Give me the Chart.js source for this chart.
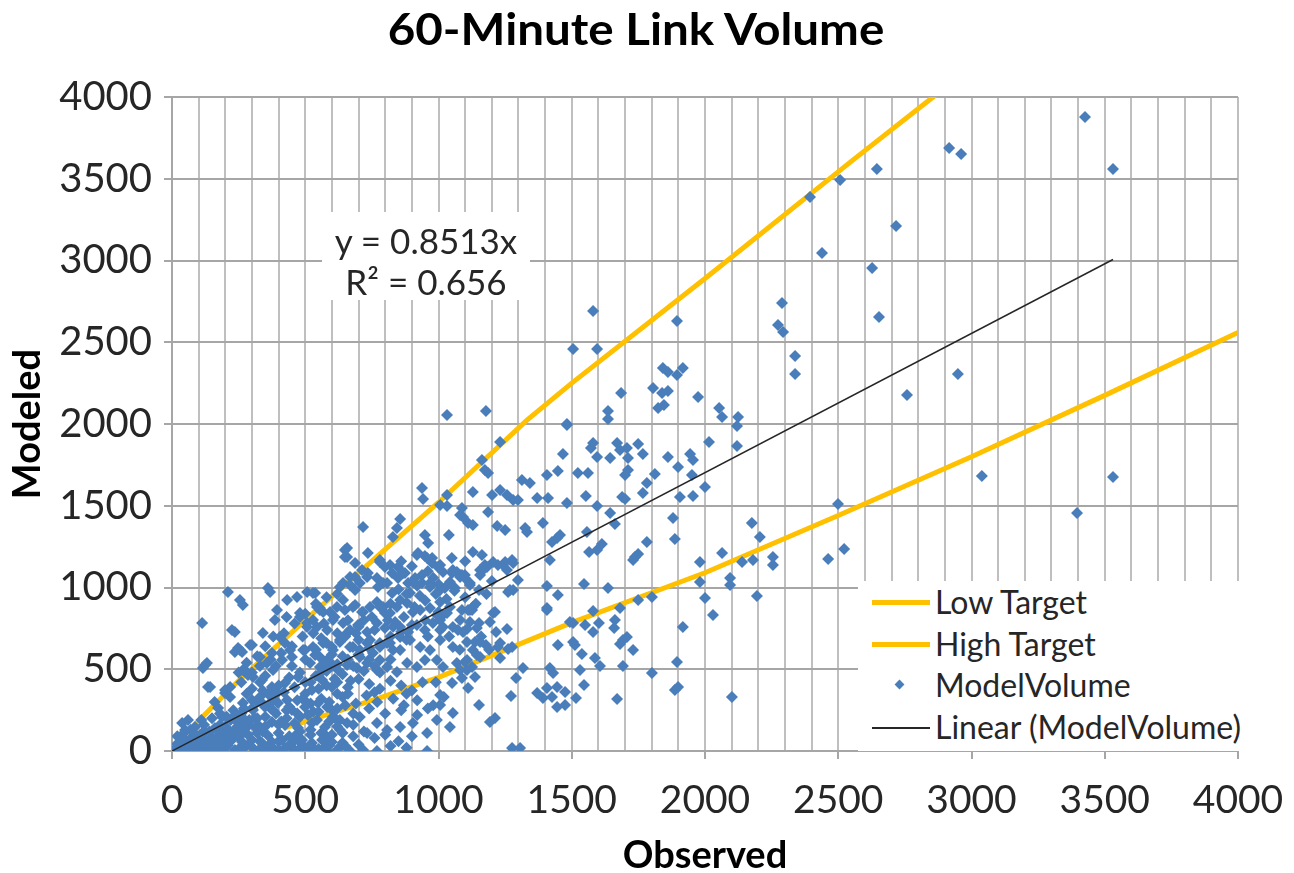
<!DOCTYPE html>
<html>
<head>
<meta charset="utf-8">
<title>60-Minute Link Volume</title>
<script src="https://cdn.jsdelivr.net/npm/chart.js@4.4.1/dist/chart.umd.min.js"></script>
<style>
  body { margin: 0; background: #fff; }
  #wrap { position: relative; width: 1294px; height: 873px; font-family: Lato, "Open Sans", sans-serif; color: #262626; }
  #chart_title { position: absolute; left: 0; top: 3px; width: 1272px; text-align: center; font-weight: bold; font-size: 44px; line-height: 50px; color: #000; transform: scaleX(1.08); }
  #eq_box { position: absolute; left: 322px; top: 212px; width: 208px; height: 80px; padding-top: 8px; background: #fff; text-align: center; font-size: 35px; line-height: 41px; }
  #legend_box { position: absolute; left: 858px; top: 581px; width: 392px; height: 170px; background: #fff; font-size: 32px; }
  .item { position: relative; height: 41.7px; line-height: 41.7px; padding-left: 77px; white-space: nowrap; }
  .sw_line { position: absolute; left: 14px; top: 19px; width: 58px; height: 5px; }
  .sw_dot { position: absolute; left: 38px; top: 17px; width: 7px; height: 7px; transform: rotate(45deg); }
</style>
</head>
<body>
<div id="wrap">
  <canvas id="line_chart" width="1294" height="873"></canvas>
  <div id="chart_title">60-Minute Link Volume</div>
  <div id="eq_box">y = 0.8513x<br>R² = 0.656</div>
  <div id="legend_box"></div>
</div>
<script>
// target curves (observed -> modeled)
let lowTargetObs = [420, 500, 780, 1000, 1500, 2000, 2500, 3000, 3500, 4000];
let lowTargetMod = [140, 180, 325, 450, 785, 1090, 1440, 1800, 2175, 2560];
let highTargetObs = [60, 100, 250, 405, 500, 754, 1000, 1332, 1500, 2000, 2544, 2856, 3000];
let highTargetMod = [110, 185, 430, 660, 800, 1168, 1520, 2024, 2250, 2890, 3600, 4000, 4180];

// linear trend end points
let trendObs = [0, 3531];
let trendMod = [0, 3006];

// observed / modeled pairs
let pairsHigh = [
  [3426,3878],[3531,3560],[2916,3688],[2961,3651],[2645,3560],[2717,3211],[2627,2954],[2653,2654],
  [2949,2306],[2758,2177],[3039,1682],[3531,1676],[3396,1456],[2394,3388],[2507,3492],[2439,3046],
  [2289,2740],[2274,2606],[2293,2563],[2338,2416],[2338,2306],[2499,1511],[2522,1235],[2462,1174]
];

let pairsUpperMid = [
  [1580,2691],[1895,2630],[1505,2459],[1595,2459],[1842,2343],[1861,2318],[1895,2300],[1917,2343],
  [1805,2220],[1839,2190],[1861,2202],[1685,2190],[1974,2165],[1636,2080],[1636,2031],[1824,2098],
  [1846,2116],[2053,2098],[2064,2043],[2124,2043],[2120,1988],[1482,2000],[2015,1890],[2120,1865],
  [1467,1817],[1580,1884],[1572,1853],[1595,1798],[1670,1884],[1681,1841],[1707,1853],[1749,1878],
  [1767,1817],[1644,1792],[1711,1792],[1861,1798],[1944,1817],[1955,1780],[1523,1700],[1561,1700],
  [1711,1719],[1700,1688],[1812,1694],[1899,1737],[1951,1688],[1782,1639],[1553,1560],[1689,1553],
  [1700,1541],[1767,1578],[1906,1553],[1955,1560],[2000,1615],[1595,1498],[1644,1456],[1662,1388],
  [1880,1425],[2176,1394],[2206,1309],[1613,1266],[1565,1217],[1782,1278],[1887,1297],[1737,1187],
  [1749,1205],[1981,1156],[2064,1211],[2139,1156],[2180,1168],[2255,1187],[2255,1138],[2094,1058],
  [2094,1015],[1981,1034],[2000,936],[2030,832],[2195,948],[2101,330]
];

let pairsMid = [
  [1407,1009],[1448,954],[1546,1021],[1636,997],[1730,1168],[1407,875],[1580,856],[1493,789],
  [1505,783],[1550,771],[1602,783],[1681,875],[1662,801],[1659,752],[1580,728],[1749,924],
  [1801,942],[1692,679],[1707,697],[1681,654],[1730,618],[1448,648],[1505,667],[1512,648],
  [1538,593],[1587,569],[1606,520],[1692,520],[1801,477],[1531,495],[1430,477],[1418,508],
  [1546,404],[1370,355],[1407,385],[1392,324],[1426,330],[1445,391],[1475,361],[1516,324],
  [1445,269],[1475,281],[1670,318],[1895,544],[1887,373],[1899,391],[1917,758],
  [1276,18],[1306,18],[1193,177],[1212,202],[1152,281],[1272,336],[1291,446],[1317,508],
  [1111,385],[1137,453],[1088,446],[1081,495],[1051,416],[1006,342],[1006,281],[1231,569],
  [1223,636],[1231,660],[1261,624],[1156,575],[1144,587],[1156,667],[1276,636],[1178,648],
  [1099,544],[1107,557],[1137,667],[1216,728],[1257,746],[1193,789],[1152,783],[1073,740],
  [1107,746],[1205,844],[1111,862],[1126,862],[1081,801],[1006,801],[1017,758],[1152,985],
  [1118,1027],[1006,911],[1268,985],[1261,972],[1280,985],[1167,1107],[1156,1076],[1182,1125],
  [1242,1138],[1276,1168],[1298,1046],[1418,1168],[1205,1156],[1051,1089],[1088,1076],[1099,1058],
  [1024,997],[1062,997]
];

let pairsUpperLeft = [
  [1482,1994],[1231,1890],[1163,1780],[1174,1719],[1186,1700],[1407,1688],[1448,1713],[1313,1657],
  [1343,1639],[1411,1547],[938,1609],[942,1541],[1032,1566],[1129,1584],[1201,1566],[1231,1596],
  [1257,1566],[1280,1535],[1298,1535],[1370,1547],[1482,1517],[1006,1505],[1032,1498],[1088,1486],
  [1092,1431],[1081,1443],[1186,1462],[1111,1394],[1129,1382],[1220,1376],[1250,1352],[1325,1364],
  [1332,1339],[1392,1394],[1456,1321],[1445,1303],[1426,1278],[1557,1339],[1595,1229],[856,1419],
  [844,1364],[829,1309],[949,1321],[961,1272],[1039,1321],[717,1370],[657,1242],[657,1187],
  [735,1211],[919,1199],[949,1193],[976,1180],[780,1156],[799,1125],[1129,1217],[1163,1199],
  [1174,1138],[1156,1107],[1223,1138],[1250,1156],[1280,1150],[1257,1107],[998,1125],[1017,1095],
  [1069,1095],[1099,1076],[938,1076],[968,1027],[867,1089],[886,1027],[912,1058],[807,1027],
  [773,1003],[826,966],[713,1107],[732,1064],[705,1027],[668,1064],[642,1027],[687,985],
  [529,966],[630,1003],[480,844],[544,881],[567,850],[619,881],[642,924],[679,881],
  [717,850],[1118,862],[1032,844],[780,881],[799,844],[856,924],[893,966],[1212,850],
  [1407,862],[1032,2055],[1178,2080],[687,1150]
];

let pairsDense = [
  [649,1229],[649,1187],[780,1168],[818,1138],[848,1125],[923,1211],[957,1180],[976,1150],
  [1006,1138],[1054,1107],[1081,1076],[668,1015],[687,1064],[735,1089],[769,1058],[792,1027],
  [826,1089],[848,1058],[874,1089],[904,1034],[938,1027],[968,1003],[1006,985],[1043,1034],
  [1081,1064],[1118,1015],[555,875],[593,850],[649,862],[687,893],[713,850],[743,881],
  [769,911],[792,881],[818,844],[844,881],[882,905],[904,850],[931,862],[968,875],
  [994,832],[1017,832],[1043,881],[1088,862],[1129,881],
  [507,783],[544,758],[582,740],[604,801],[642,783],[668,740],[698,771],[732,728],
  [769,783],[799,752],[837,789],[856,758],[886,728],[919,771],[949,740],[979,783],
  [1006,740],[1054,758],[1092,728],[1118,789],[1144,752],
  [492,618],[529,636],[567,661],[604,618],[630,667],[668,636],[705,618],[743,679],
  [780,636],[818,661],[856,618],[893,679],[931,636],[968,618],[1006,679],[1054,636],
  [1107,667],[1129,618],
  [518,538],[555,514],[593,544],[623,495],[657,526],[694,508],[732,538],[769,495],
  [807,514],[844,483],[882,538],[919,514],[949,557],[994,557],[1017,514],[1069,538],
  [1107,495],[1126,514],
  [555,575],[582,557],[630,679],[657,722],[679,636],[705,575],[732,661],[754,599],
  [780,557],[807,661],[829,618],[856,697],
  [620,420],[660,390],[700,440],[740,410],[780,380],[820,430],[860,400],[900,370],[940,420],
  [640,330],[690,290],[730,340],[770,300],[830,320],[870,280],[920,310],[960,260],
  [280,350],[320,300],[360,350],[400,400],[440,450],[480,480],[520,420],[560,480],
  [600,520],[640,580],[350,460],[390,520],[450,520],[500,560],[540,620],[580,660],
  [620,720],[660,800],[700,760],[750,820],[820,900],[880,960],[930,950],[980,1060],
  [620,260],[680,230],[740,260],[800,230],[860,250],[920,220],[980,280],[1020,330],
  [660,350],[760,360],[880,350],[990,420]
];

let pairsAboveTrend = [
  [300,480],[330,520],[370,560],[410,600],[450,640],[490,700],[530,720],[570,780],
  [610,820],[650,700],[690,720],[720,800],[760,740],[350,640],[420,720],[460,780],
  [500,840],[540,900],[580,940],[620,960],[430,820],[380,700],[320,580],[280,540],
  [250,480],[560,690],[600,590],[700,680],[740,560],[680,520],[720,490],[780,480],
  [820,560],[760,520],
  [830,760],[870,820],[910,880],[950,920],[990,960],[1030,930],[1060,980],[1100,940],
  [1140,900],[1180,960],[1200,1040],[1000,1020],[960,1100],[900,1130],[860,1160],[1050,1180],
  [1100,1160],[920,1010],[850,990],[810,800],[880,680],[960,700],[1040,700],[1080,620],
  [1160,700],[1190,620]
];

let pairsTrendBand = [
  [70,60],[100,80],[140,120],[180,160],[220,190],[260,230],[300,260],[340,290],
  [380,320],[420,360],[460,390],[500,420],[540,460],[580,490],[620,530],[660,560],
  [700,590],[740,630],[780,660],[820,700],[860,730],[900,770],[950,800],[1000,850]
];

let pairsLow = [
  [210,972],[113,783],[360,997],[368,972],[255,924],[266,893],[225,740],[236,728],
  [341,722],[394,862],[386,801],[432,924],[469,942],[507,972],[537,966],[116,508],
  [131,538],[143,391],[248,630],[263,606],[300,648],[199,373],[218,391],[266,495],
  [285,465],[405,697],[424,661],[443,618],[330,575],[356,538],[379,495],[480,820],
  [507,758],[529,801],[555,862],
  [229,208],[266,294],[304,251],[330,330],[368,294],[394,355],[432,312],[480,208],
  [507,294],[544,190],[582,269],[604,208],[657,171],[705,208],[732,110],[769,171],
  [807,128],[856,147],[904,171],[957,110],[994,190],[1043,147],[1054,232],
  [480,55],[529,6],[582,0],[630,24],[668,0],[717,6],[769,0],[957,0],
  [640,110],[680,90],[720,120],[760,80],[800,100],[850,60],[900,90],[700,40],
  [640,50],[820,30],[880,20],
  [320,200],[350,150],[380,250],[410,180],[440,270],[470,310],[500,350],[530,240],
  [560,320],[590,300],[620,350],[650,280],[340,370],[370,260],[400,160],[430,250],
  [460,170],[490,320],[520,290],[550,380],[580,400],[610,440],[640,470],[670,430],
  [340,120],[400,60],[460,90],[520,130],[580,90],[620,150]
];

let pairsOrigin = [
  [124,526],[135,391],[236,606],[255,618],[293,648],[281,483],[304,453],[199,355],
  [218,330],[173,263],[188,208],[375,599],[413,557],[450,575],[499,618],[537,587],
  [574,538],[600,636],[338,434],[375,391],[424,416],[473,453],[525,373],[563,434],
  [600,391],[300,312],[349,269],[398,294],[450,251],[499,269],[548,294],[600,251],
  [274,190],[323,159],[375,177],[424,159],[473,141],[525,171],[574,147],[612,202],
  [38,67],[75,86],[113,110],[150,86],[188,67],[225,80],[263,55],[300,67],
  [338,49],[375,55],[413,67],[450,49],[488,67],[525,49],[563,67],[600,55],
  [23,24],[49,37],[11,6],[86,24],[124,18],[161,6],[199,18],[236,6],
  [274,24],[311,6],[349,18],[386,6],[424,18],[461,6],[499,18],[537,6],
  [574,24],[49,128],[86,147],[124,116],[161,141],[38,171],[60,190],
  [160,300],[230,250],[260,420],[300,380],[330,420],
  [30,10],[60,15],[95,8],[140,30],[175,12],[210,35],[250,12],[290,40],
  [330,14],[365,30],[400,10],[440,35],[480,15],[515,30],[550,12],[590,35],
  [620,8],[650,30],[20,45],[55,60],[100,45],[130,60],[170,40],[210,100],
  [245,90],[285,100],[320,110],[360,95],[400,110],[440,90],[480,120],[520,100],
  [560,110],[600,100],[630,130],[90,100],[120,160],[200,150],[240,140],[280,150],
  [310,200],[350,210],[390,230],[430,200],[470,230],[510,220],[550,240],[590,180],
  [630,190],[680,160],
  [15,20],[40,50],[65,35],[90,60],[115,75],[140,55],[165,80],[190,100],
  [215,120],[240,110],[265,130],[290,160],[315,140],[20,90],[45,110],[70,130],
  [110,190],[150,200],[180,230],[205,210],[240,200],[270,260],[180,120],[220,60],
  [250,170],[290,190],[330,60],[260,100]
];

let legendLabels = ['Low Target', 'High Target', 'ModelVolume', 'Linear (ModelVolume)'];

const GOLD = '#ffc000';
const BLUE = '#4a7ebb';
const TEXT = '#262626';

function toPoints(xs, ys) {
    return xs.map(function (x, i) { return { x: x, y: ys[i] }; });
}

let volumePts = [].concat(pairsHigh, pairsUpperMid, pairsMid, pairsUpperLeft, pairsDense,
        pairsAboveTrend, pairsTrendBand, pairsLow, pairsOrigin)
    .map(function (p) { return { x: p[0], y: p[1] }; });

//=======================================================//
let ctx = document.getElementById('line_chart').getContext('2d');

let line_chart = new Chart(ctx, {
    type: 'scatter',
    data: {
        datasets: [
            {
                label: legendLabels[3],
                data: toPoints(trendObs, trendMod),
                showLine: true,
                borderColor: TEXT,
                borderWidth: 1.5,
                pointRadius: 0,
                order: 0
            },
            {
                label: legendLabels[2],
                data: volumePts,
                pointStyle: 'rectRot',
                pointRadius: 6,
                backgroundColor: BLUE,
                borderColor: BLUE,
                borderWidth: 0,
                order: 1
            },
            {
                label: legendLabels[1],
                data: toPoints(highTargetObs, highTargetMod),
                showLine: true,
                borderColor: GOLD,
                borderWidth: 5,
                pointRadius: 0,
                order: 2
            },
            {
                label: legendLabels[0],
                data: toPoints(lowTargetObs, lowTargetMod),
                showLine: true,
                borderColor: GOLD,
                borderWidth: 5,
                pointRadius: 0,
                order: 3
            }
        ]
    },
    options: {
        responsive: false,
        animation: false,
        devicePixelRatio: 1,
        layout: { padding: { left: 0, right: 56, top: 97, bottom: 0 } },
        plugins: {
            legend: { display: false },
            tooltip: { enabled: false },
            title: { display: false }
        },
        scales: {
            x: {
                type: 'linear',
                min: 0,
                max: 4000,
                afterFit: function (s) {
                    s.height = 122;
                    // keep the plot edge fixed, the last label may hang past it
                    s.paddingLeft = 0;
                    s.paddingRight = 0;
                },
                ticks: {
                    stepSize: 100,
                    autoSkip: false,
                    maxRotation: 0,
                    padding: 18,
                    color: TEXT,
                    font: { family: 'Lato', size: 39 },
                    callback: function (v) { return v % 500 === 0 ? v : ''; }
                },
                grid: {
                    color: '#bfbfbf',
                    lineWidth: 2,
                    tickLength: 8,
                    tickColor: function (c) {
                        return c.tick && c.tick.value % 500 === 0 ? '#a6a6a6' : 'rgba(0,0,0,0)';
                    }
                },
                border: { color: '#a6a6a6', width: 2 },
                title: {
                    display: true,
                    text: 'Observed',
                    color: '#000',
                    font: { family: 'Lato', size: 38, weight: 'bold', lineHeight: 1 },
                    padding: { top: 0, bottom: -2 }
                }
            },
            y: {
                min: 0,
                max: 4000,
                afterFit: function (s) { s.width = 172; },
                ticks: {
                    stepSize: 500,
                    padding: 12,
                    color: TEXT,
                    font: { family: 'Lato', size: 40 },
                    callback: function (v) { return v; }
                },
                grid: { color: '#a6a6a6', lineWidth: 2, tickLength: 8 },
                border: { color: '#a6a6a6', width: 2 },
                title: {
                    display: true,
                    text: 'Modeled',
                    color: '#000',
                    font: { family: 'Lato', size: 38, weight: 'bold', lineHeight: 1 },
                    padding: { top: 9, bottom: 0 }
                }
            }
        }
    }
});

// legend box in the lower right of the plot
function buildLegend() {
    let box = document.getElementById('legend_box');
    let swatches = [
        '<span class="sw_line" style="background:' + GOLD + '"></span>',
        '<span class="sw_line" style="background:' + GOLD + '"></span>',
        '<span class="sw_dot" style="background:' + BLUE + '"></span>',
        '<span class="sw_line" style="background:' + TEXT + ';height:2px;top:21px"></span>'
    ];
    box.innerHTML = legendLabels.map(function (lbl, i) {
        return '<div class="item">' + swatches[i] + lbl + '</div>';
    }).join('');
}
buildLegend();
</script>
</body>
</html>
